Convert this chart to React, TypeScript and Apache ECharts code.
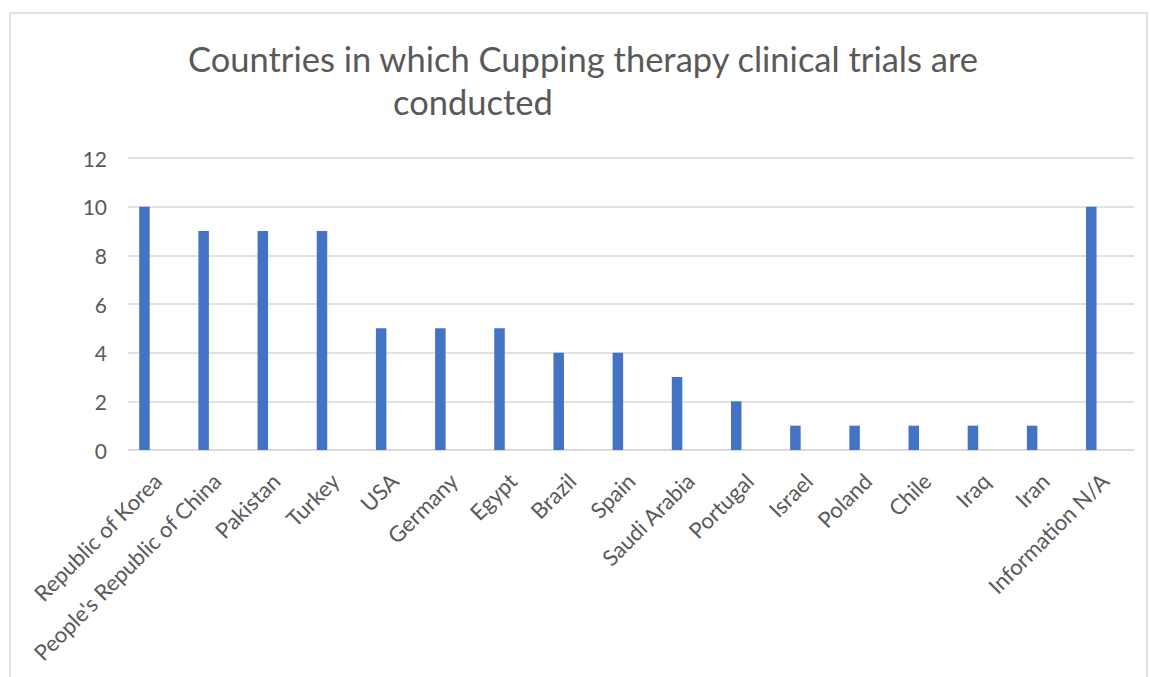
import React, { useEffect, useRef } from "react";
import * as echarts from "echarts";

const categories = [
  "Republic of Korea",
  "People's Republic of China",
  "Pakistan",
  "Turkey",
  "USA",
  "Germany",
  "Egypt",
  "Brazil",
  "Spain",
  "Saudi Arabia",
  "Portugal",
  "Israel",
  "Poland",
  "Chile",
  "Iraq",
  "Iran",
  "Information N/A",
];
const trialCounts = [10, 9, 9, 9, 5, 5, 5, 4, 4, 3, 2, 1, 1, 1, 1, 1, 10];
const yTicks = { min: 0, max: 12, interval: 2 };
const titleLine1 = "Countries in which Cupping therapy clinical trials are";
const titleLine2 = "conducted";

const FONT = "Lato, 'Open Sans', sans-serif";
const TEXT = "#595959";

export default function App() {
  const ref = useRef<HTMLDivElement>(null);
  useEffect(() => {
    document.body.style.margin = "0";
    const chart = echarts.init(ref.current!, undefined, { renderer: "svg" });
    chart.setOption({
      animation: false,
      backgroundColor: "#ffffff",
      title: [
        {
          text: titleLine1,
          left: 188,
          top: 41,
          padding: 0,
          textStyle: { fontFamily: FONT, fontSize: 34.5, fontWeight: "normal", color: TEXT },
        },
        {
          text: titleLine2,
          left: 393,
          top: 84,
          padding: 0,
          textStyle: { fontFamily: FONT, fontSize: 34.5, fontWeight: "normal", color: TEXT },
        },
      ],
      graphic: [
        {
          type: "rect",
          shape: { x: 10, y: 13, width: 1137, height: 700 },
          style: { fill: "none", stroke: "#D9D9D9", lineWidth: 1.5 },
          silent: true,
        },
      ],
      grid: { left: 128, right: 16, top: 158, bottom: 227, containLabel: false },
      xAxis: {
        type: "category",
        data: categories,
        axisLine: { lineStyle: { color: "#D9D9D9", width: 1.5 } },
        axisTick: { show: false },
        axisLabel: {
          interval: 0,
          rotate: 45,
          margin: 27,
          color: TEXT,
          fontFamily: FONT,
          fontSize: 22,
        },
      },
      yAxis: {
        type: "value",
        min: yTicks.min,
        max: yTicks.max,
        interval: yTicks.interval,
        axisLine: { show: false },
        axisTick: { show: false },
        splitLine: { lineStyle: { color: "#D9D9D9", width: 1.5 } },
        axisLabel: { color: TEXT, fontFamily: FONT, fontSize: 21, margin: 21 },
      },
      series: [
        {
          name: "Trials",
          type: "bar",
          data: trialCounts,
          barWidth: 10.5,
          barGap: "25%",
          itemStyle: { color: "#4472C4" },
        },
        { name: "s2", type: "bar", data: [], barWidth: 10.5, barGap: "25%" },
        { name: "s3", type: "bar", data: [], barWidth: 10.5, barGap: "25%" },
      ],
    });
    return () => chart.dispose();
  }, []);
  return <div ref={ref} style={{ width: 1150, height: 677 }} />;
}
